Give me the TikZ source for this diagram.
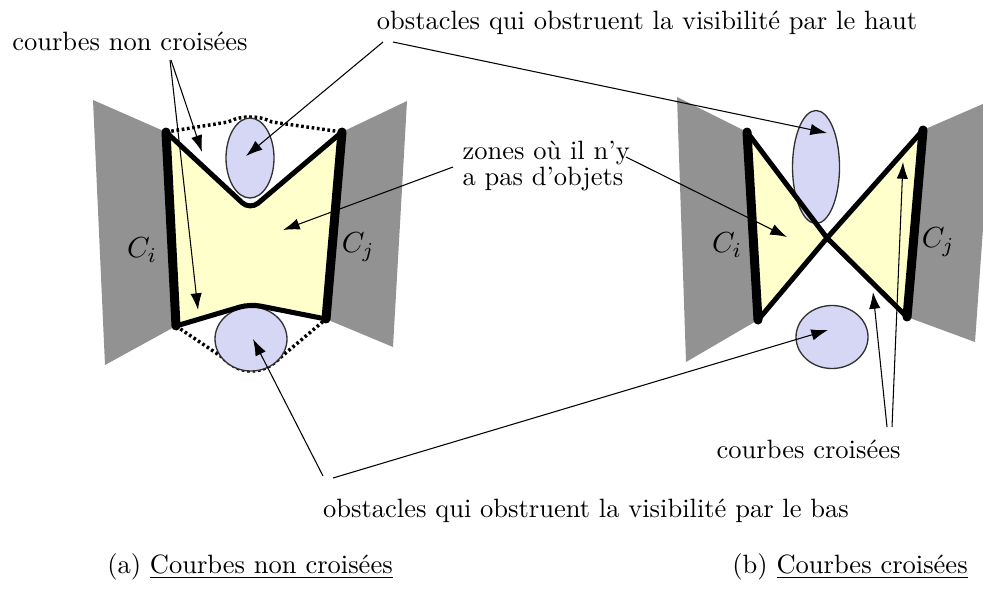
\documentclass[tikz,border=0pt]{standalone}
\usetikzlibrary{shapes.geometric,arrows.meta}
\definecolor{wallgray}{RGB}{146,146,146}
\definecolor{zoneyellow}{RGB}{255,255,204}
\definecolor{obstfill}{RGB}{214,214,245}
\definecolor{obstborder}{RGB}{50,50,50}
\begin{document}
\begin{tikzpicture}[x=0.3774pt,y=-0.3774pt,
  graywall/.style={fill=wallgray},
  zone/.style={fill=zoneyellow},
  wall/.style={line width=3.4pt,line cap=round},
  curveline/.style={line width=1.9pt,line join=round,line cap=round},
  vis/.style={line width=1.3pt,dash pattern=on 1pt off 1pt},
  obst/.style={ellipse,draw=obstborder,line width=0.5pt,fill=obstfill,inner sep=0pt},
  lbl/.style={font=\fontsize{10}{12}\selectfont,inner sep=0pt},
  clbl/.style={font=\fontsize{11}{13}\selectfont,inner sep=0pt},
  ptr/.style={line width=0.4pt,-{Latex[length=6.3pt,width=4.3pt]}}]
\clip (0,0) rectangle (983,588);
% ---------- panel (a) ----------
\coordinate (A) at (166,132);
\coordinate (C) at (176,326);
\coordinate (B) at (342,132);
\coordinate (D) at (326,319);
\coordinate (UT) at (250,210);
\coordinate (LT) at (250,304);
\fill[graywall] (93,100) -- (A) -- (C) -- (105,365) -- cycle;
\fill[graywall] (B) -- (407,101) -- (393,347) -- (D) -- cycle;
\fill[zone,rounded corners=4pt] (A) -- (UT) -- (B) -- (D) -- (LT) -- (C) -- cycle;
\draw[vis] (A) -- (228,122) .. controls (236,118) and (243,117) .. (250,117)
  .. controls (257,117) and (264,118) .. (272,122) -- (B);
\draw[vis] (C) -- (222,357) .. controls (231,366) and (240,371) .. (251,371)
  .. controls (263,371) and (272,366) .. (281,357) -- (D);
\node[obst,minimum width=48*0.3774pt,minimum height=80*0.3774pt] (E1) at (250,158) {};
\node[obst,minimum width=72*0.3774pt,minimum height=64*0.3774pt] (E2) at (251,339) {};
\draw[curveline,rounded corners=4pt] (A) -- (UT) -- (B);
\draw[curveline,rounded corners=4pt] (C) -- (LT) -- (D);
\draw[wall] (A) -- (C);
\draw[wall] (B) -- (D);
\node[clbl] (Ca) at (142,250) {$C_i$};
\node[clbl] (Cb) at (358,247) {$C_j$};
% ---------- panel (b) ----------
\coordinate (P) at (747,132);
\coordinate (R) at (758,320);
\coordinate (Q) at (923,130);
\coordinate (S) at (907,317);
\coordinate (X) at (827,238);
\fill[graywall] (677,97) -- (P) -- (R) -- (686,362) -- cycle;
\fill[graywall] (Q) -- (992,100) -- (975,342) -- (S) -- cycle;
\fill[zone] (P) -- (X) -- (R) -- cycle;
\fill[zone] (Q) -- (X) -- (S) -- cycle;
\node[obst,minimum width=47*0.3774pt,minimum height=113*0.3774pt] (E3) at (816,167) {};
\node[obst,minimum width=72*0.3774pt,minimum height=63*0.3774pt] (E4) at (832,337) {};
\draw[curveline] (P) -- (X) -- (S);
\draw[curveline] (R) -- (X) -- (Q);
\draw[wall] (P) -- (R);
\draw[wall] (Q) -- (S);
\node[clbl] (Cc) at (727,245) {$C_i$};
\node[clbl] (Cd) at (938,242) {$C_j$};
% ---------- labels ----------
\node[lbl] (L1) at (130,41) {courbes non croisées};
\node[lbl] (L2) at (647,23) {obstacles qui obstruent la visibilité par le haut};
\node[lbl,align=left,anchor=west,font=\fontsize{10}{8.4}\selectfont] (L3) at (462,166) {zones où il n'y\\a pas d'objets};
\node[lbl,anchor=east] (L4) at (901,449) {courbes croisées};
\node[lbl] (L5) at (586,511) {obstacles qui obstruent la visibilité par le bas};
\node[lbl] (Ka) at (250,567) {(a) \underline{Courbes non croisées}};
\node[lbl] (Kb) at (850,567) {(b) \underline{Courbes croisées}};
% ---------- pointers ----------
\coordinate (s1a) at (171,60);  \coordinate (t1a) at (202,152);
\coordinate (s1b) at (170,60);  \coordinate (t1b) at (198,310);
\coordinate (s2a) at (383,42);  \coordinate (t2a) at (246,156);
\coordinate (s2b) at (393,42);  \coordinate (t2b) at (827,133);
\coordinate (s3a) at (453,167); \coordinate (t3a) at (283,230);
\coordinate (s3b) at (626,157); \coordinate (t3b) at (787,237);
\coordinate (s4a) at (887,427); \coordinate (t4a) at (873,292);
\coordinate (s4b) at (892,427); \coordinate (t4b) at (903,162);
\coordinate (s5a) at (323,476); \coordinate (t5a) at (253,339);
\coordinate (s5b) at (333,478); \coordinate (t5b) at (828,330);
\draw[ptr] (s1a) -- (t1a);
\draw[ptr] (s1b) -- (t1b);
\draw[ptr] (s2a) -- (t2a);
\draw[ptr] (s2b) -- (t2b);
\draw[ptr] (s3a) -- (t3a);
\draw[ptr] (s3b) -- (t3b);
\draw[ptr] (s4a) -- (t4a);
\draw[ptr] (s4b) -- (t4b);
\draw[ptr] (s5a) -- (t5a);
\draw[ptr] (s5b) -- (t5b);
\end{tikzpicture}
\end{document}
